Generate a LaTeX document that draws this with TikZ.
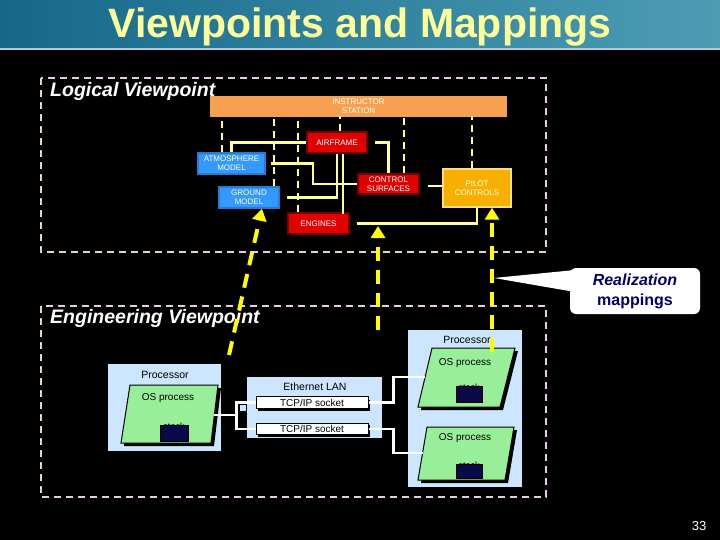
\documentclass[tikz,border=0pt]{standalone}
\usepackage{fontspec}
\setmainfont{Liberation Sans}
\usetikzlibrary{arrows.meta}
\definecolor{ttlA}{HTML}{16688A}
\definecolor{ttlB}{HTML}{4C9DB4}
\definecolor{ttltext}{HTML}{FFFF99}
\definecolor{bndc}{HTML}{E6CCE6}
\definecolor{lineyel}{HTML}{FFFF99}
\definecolor{mapyel}{HTML}{FFFF00}
\definecolor{insor}{HTML}{F7A050}
\definecolor{redbox}{HTML}{E00000}
\definecolor{redbd}{HTML}{700000}
\definecolor{bluebox}{HTML}{3399FF}
\definecolor{bluebd}{HTML}{2A7AD0}
\definecolor{pilotbox}{HTML}{F8B000}
\definecolor{pilotbd}{HTML}{FFDD80}
\definecolor{lblue}{HTML}{CCE6FF}
\definecolor{osgreen}{HTML}{99EE99}
\definecolor{stacknavy}{HTML}{0A0A4A}
\definecolor{calltext}{HTML}{000066}
\tikzset{
  lbox/.style={inner sep=0pt, text=white, align=center, line width=1.4pt,
    font=\fontsize{8}{8.6}\selectfont},
  redn/.style={lbox, fill=redbox, draw=redbd},
  bluen/.style={lbox, fill=bluebox, draw=bluebd},
  dashln/.style={draw=lineyel, line width=2.4pt, dash pattern=on 7pt off 5pt},
  solidln/.style={draw=lineyel, line width=2.4pt},
  bnd/.style={draw=bndc, line width=2.2pt, dash pattern=on 7pt off 5pt},
  mapar/.style={draw=mapyel, line width=4pt, dash pattern=on 14pt off 9pt,
    -{Triangle[width=14pt,length=12pt]}},
  vptitle/.style={text=white, font=\fontsize{19.5}{22}\selectfont\bfseries\itshape, anchor=west, inner sep=0pt},
  engtxt/.style={text=black, inner sep=0pt, font=\fontsize{10.5}{12}\selectfont},
  sockbox/.style={fill=white, draw=black, line width=1pt, inner sep=0pt,
    minimum width=112pt, minimum height=11.5pt, font=\fontsize{10}{11}\selectfont},
  wire/.style={draw=white, line width=2.6pt},
  osshape/.style={fill=osgreen, draw=black, line width=1pt},
  osshadow/.style={fill=black},
  stackbox/.style={fill=stacknavy, draw=black, line width=0.5pt},
}
\begin{document}
\begin{tikzpicture}[x=1pt,y=-1pt]
\useasboundingbox (0,0) rectangle (720,540);
\fill[black] (0,0) rectangle (720,540);
% title bar
\shade[left color=ttlA, right color=ttlB] (0,0) rectangle (720,48);
\fill[ttlB!50!white] (0,48) rectangle (720,50);
\node[text=ttltext, font=\fontsize{41}{45}\selectfont\bfseries, inner sep=0pt] (title) at (360,27) {Viewpoints and Mappings};

% boundaries
\draw[bnd] (41,78) rectangle (546,252);
\draw[bnd] (41,306) rectangle (546,497);

% logical viewpoint
\node[lbox, fill=insor, minimum width=297pt, minimum height=21pt] (ins) at (358.5,106.5) {INSTRUCTOR\\STATION};
\node[vptitle] (lvp) at (50,91) {Logical Viewpoint};
\node[redn, minimum width=60pt, minimum height=21pt] (air) at (337,142.5) {AIRFRAME};
\node[bluen, minimum width=67pt, minimum height=21pt] (atm) at (231.5,163.5) {ATMOSPHERE\\MODEL};
\node[bluen, minimum width=60pt, minimum height=21pt] (gm) at (249,197.5) {GROUND\\MODEL};
\node[redn, minimum width=61pt, minimum height=20pt] (cs) at (388.5,184) {CONTROL\\SURFACES};
\node[lbox, fill=pilotbox, draw=pilotbd, text=white!90!yellow, minimum width=68pt, minimum height=38pt] (pc) at (477,188) {PILOT\\CONTROLS};
\node[redn, minimum width=61pt, minimum height=21pt] (eng) at (318.5,223.5) {ENGINES};

% dashed links to instructor station
\draw[dashln] ([xshift=-9.5pt]atm.north) -- ++(0,-36);
\draw[dashln] ([xshift=25pt]gm.north) -- ++(0,-70);
\draw[dashln] ([xshift=-20.5pt]eng.north) -- ++(0,-96);
\draw[dashln] ([xshift=3pt]air.north) -- ++(0,-15);
\draw[dashln] ([xshift=15.5pt]cs.north) -- ++(0,-57);
\draw[dashln] ([xshift=-5pt]pc.north) -- ++(0,-52);

% solid links
\draw[solidln] (atm.north) |- (air.west);
\draw[solidln] ([xshift=7pt]air.east) -| (cs.north);
\draw[solidln] ([xshift=5pt]atm.east) -- ++(42,0) |- (cs.west);
\draw[solidln] ([xshift=7pt]gm.east) -| (air.south);
\draw[solidln] ([xshift=6pt]air.south) -- ++(0,60);
\draw[solidln] ([xshift=8pt,yshift=-2pt]cs.east) -- ++(16,0);
\draw[solidln] ([xshift=7pt]eng.east) -| (pc.south);

% engineering viewpoint
\node[vptitle] (evp) at (50,318) {Engineering Viewpoint};

% left processor
\fill[lblue] (108,364) rectangle (221,451);
\node[engtxt] (lproc) at (165,375) {Processor};
\fill[osshadow] (133,388) -- (221,388) -- (214,446) -- (124,446) -- cycle;
\draw[osshape] (130,385) -- (218,385) -- (211,443) -- (121,443) -- cycle;
\node[engtxt, font=\fontsize{10}{11}\selectfont] (los) at (168,398) {OS process};
\node[engtxt, font=\fontsize{9}{10}\selectfont] (lstk) at (174,426) {stack};
\filldraw[stackbox] (160,425) rectangle (188,441);

% Ethernet LAN
\fill[lblue] (247,377) rectangle (382,438);
\node[engtxt] (eth) at (315,387) {Ethernet LAN};
\fill[black] (258,399.5) rectangle (370,410.5);
\fill[black] (258,425) rectangle (370,437);
\node[sockbox] (sock1) at (312,402.5) {TCP/IP socket};
\node[sockbox] (sock2) at (312,429) {TCP/IP socket};

% right processor
\fill[lblue] (408,330) rectangle (522,487);
\node[engtxt] (rproc) at (467,340) {Processor};
\fill[osshadow] (435,351) -- (518,351) -- (503,410) -- (421,410) -- cycle;
\draw[osshape] (432,348) -- (515,348) -- (500,407) -- (418,407) -- cycle;
\node[engtxt, font=\fontsize{10}{11}\selectfont] (ros1) at (465,363) {OS process};
\node[engtxt, font=\fontsize{9}{10}\selectfont] (rstk1) at (469,387) {stack};
\filldraw[stackbox] (456,386) rectangle (482,402);
\fill[osshadow] (430,430) -- (517,430) -- (508,483) -- (421,483) -- cycle;
\draw[osshape] (427,427) -- (514,427) -- (505,480) -- (418,480) -- cycle;
\node[engtxt, font=\fontsize{10}{11}\selectfont] (ros2) at (465,438) {OS process};
\node[engtxt, font=\fontsize{9}{10}\selectfont] (rstk2) at (469,465) {stack};
\filldraw[stackbox] (456,464) rectangle (482,478);

% wires
\coordinate (lose) at (214,415);
\coordinate (brk) at (237,415);
\coordinate (os1w) at (425,377);
\coordinate (os2w) at (422.6,453);
\draw[wire] (lose) -- (brk);
\draw[wire] (sock1.west) -- ++(-19,0) |- (sock2.west);
\fill[lblue] (240,405) rectangle (246,411);
\draw[wire] (sock1.east) -- ++(25,0) |- (os1w);
\draw[wire] (sock2.east) -- ++(25,0) |- (os2w);

% realization mappings
\coordinate (m1) at (229,355);
\coordinate (m2) at (378,330);
\coordinate (m2t) at (378,226);
\coordinate (m3) at (492,352);
\draw[mapar] (m1) -- ([xshift=13pt]gm.south);
\draw[mapar] (m2) -- (m2t);
\draw[mapar] (m3) -- ([xshift=15pt]pc.south);

% callout
\fill[white] (494,278) -- (575,270) -- (575,292) -- cycle;
\node[fill=white, rounded corners=6pt, minimum width=130pt, minimum height=46pt, inner sep=0pt,
  align=center, text=calltext, font=\fontsize{16}{20}\selectfont\bfseries] (rm) at (635,291)
  {\textit{Realization}\\mappings};

% page number
\node[text=white, font=\fontsize{13}{14}\selectfont, inner sep=0pt] (pg) at (699,526) {33};
\end{tikzpicture}
\end{document}
